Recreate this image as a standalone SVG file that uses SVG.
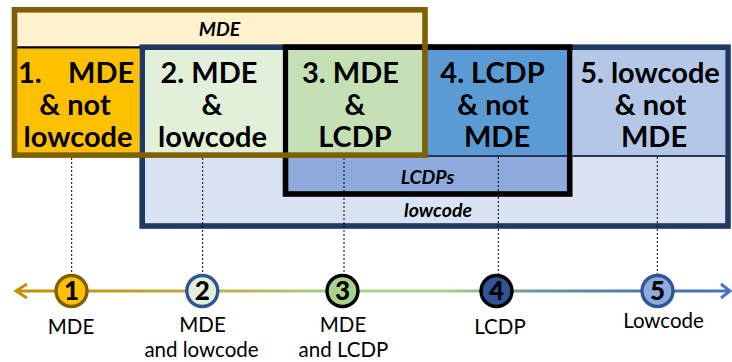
<svg xmlns="http://www.w3.org/2000/svg" width="732" height="362" viewBox="0 0 732 362">
<defs>
<linearGradient id="axisGrad" gradientUnits="userSpaceOnUse" x1="15" y1="0" x2="732" y2="0">
<stop offset="0" stop-color="#BF9000"/>
<stop offset="0.25" stop-color="#BFA840"/>
<stop offset="0.46" stop-color="#A9D18E"/>
<stop offset="0.6" stop-color="#A9D18E"/>
<stop offset="0.72" stop-color="#6F96A0"/>
<stop offset="0.88" stop-color="#4F78A8"/>
<stop offset="1" stop-color="#4472C4"/>
</linearGradient>
<style>
.big{font-family:Lato,"Liberation Sans",sans-serif;font-weight:bold;font-size:29px;fill:#000}
.ital{font-family:Lato,"Liberation Sans",sans-serif;font-weight:bold;font-style:italic;font-size:19.5px;fill:#000;text-anchor:middle}
.mid{text-anchor:middle}
.lbl{font-family:Lato,"Liberation Sans",sans-serif;font-size:20.5px;fill:#000;text-anchor:middle}
.num{font-family:Lato,"Liberation Sans",sans-serif;font-weight:900;font-size:26px;fill:#000;text-anchor:middle}
.dot{stroke:#000;stroke-width:1;stroke-dasharray:2 2;fill:none}
.ring{stroke-width:3.4}
</style>
</defs>

<g id="mde-header">
<rect x="17" y="12" width="405" height="36" fill="#FFF2CC"/>
<line x1="17" y1="47.5" x2="140" y2="47.5" stroke="#000" stroke-width="2.3"/>
<text class="ital" x="219.5" y="35.5">MDE</text>
</g>

<g id="lowcode-box">
<rect x="142.2" y="47.2" width="585.8" height="178.8" fill="#DAE3F3" stroke="#1F3864" stroke-width="5.6"/>
<text class="ital" x="438" y="216.5">lowcode</text>
</g>

<g id="lcdp-box">
<rect x="285.5" y="47.2" width="284.2" height="146.8" fill="#8FAADC" stroke="#000" stroke-width="5.6"/>
<text class="ital" x="427.5" y="183.5">LCDPs</text>
</g>

<g id="region1">
<rect x="17" y="48.7" width="122.4" height="104" fill="#FFC000"/>
<text class="big" y="83"><tspan x="18">1. </tspan><tspan x="68">MDE</tspan></text>
<text class="big mid" x="75" y="115">&amp; not</text>
<text class="big mid" x="78" y="147">lowcode</text>
</g>

<g id="region2">
<rect x="145" y="50" width="137.7" height="103" fill="#E2F0D9"/>
<text class="big mid" x="209" y="83">2. MDE</text>
<text class="big mid" x="212" y="115">&amp;</text>
<text class="big mid" x="212.5" y="147">lowcode</text>
</g>

<g id="region3">
<rect x="288.3" y="50" width="134" height="103" fill="#C5E0B4"/>
<text class="big mid" x="350.5" y="83">3. MDE</text>
<text class="big mid" x="355" y="115">&amp;</text>
<text class="big mid" x="355" y="147">LCDP</text>
</g>

<g id="region4">
<rect x="422" y="50" width="144.8" height="105" fill="#5B9BD5"/>
<line x1="422" y1="156" x2="567" y2="156" stroke="#2A3550" stroke-width="1.8"/>
<text class="big mid" x="492.5" y="83">4. LCDP</text>
<text class="big mid" x="493" y="115">&amp; not</text>
<text class="big mid" x="497" y="147">MDE</text>
</g>

<g id="region5">
<rect x="572.6" y="50" width="152.6" height="105" fill="#B4C7E7"/>
<line x1="572.6" y1="156" x2="725.2" y2="156" stroke="#2A3550" stroke-width="1.8"/>
<text class="big mid" x="650" y="83">5. lowcode</text>
<text class="big mid" x="650.5" y="115">&amp; not</text>
<text class="big mid" x="654" y="147">MDE</text>
</g>

<g id="mde-box">
<rect x="14.5" y="9.8" width="410.5" height="145.3" fill="none" stroke="#7F6000" stroke-width="5.6"/>
</g>

<g id="connectors">
<line class="dot" x1="71.7" y1="158" x2="71.7" y2="274"/>
<line class="dot" x1="202.7" y1="158" x2="202.7" y2="274"/>
<line class="dot" x1="344" y1="158" x2="344" y2="274"/>
<line class="dot" x1="498.3" y1="157" x2="498.3" y2="274"/>
<line class="dot" x1="657.3" y1="157" x2="657.3" y2="274"/>
<line x1="16" y1="291" x2="730" y2="291" stroke="url(#axisGrad)" stroke-width="3"/>
<polyline points="27,284 16,291 27,298" fill="none" stroke="#BF9000" stroke-width="3"/>
<polyline points="721,284 730,291 721,298" fill="none" stroke="#4472C4" stroke-width="3"/>
</g>

<g id="marker1">
<circle class="ring" cx="71.5" cy="291" r="15.5" fill="#FFC000" stroke="#7F6000"/>
<text class="num" x="71.5" y="300">1</text>
<text class="lbl" x="71" y="334">MDE</text>
</g>
<g id="marker2">
<circle class="ring" cx="202.3" cy="291" r="15.5" fill="#E2F0D9" stroke="#2F5597"/>
<text class="num" x="202.3" y="300">2</text>
<text class="lbl" x="202.5" y="332">MDE</text>
<text class="lbl" x="201.5" y="357">and lowcode</text>
</g>
<g id="marker3">
<circle class="ring" cx="342.5" cy="291" r="15.5" fill="#A9D18E" stroke="#000"/>
<text class="num" x="342.5" y="300">3</text>
<text class="lbl" x="343" y="332">MDE</text>
<text class="lbl" x="343.5" y="357">and LCDP</text>
</g>
<g id="marker4">
<circle class="ring" cx="496.5" cy="291" r="15.5" fill="#2F5597" stroke="#000"/>
<text class="num" x="496.5" y="300">4</text>
<text class="lbl" x="500" y="334">LCDP</text>
</g>
<g id="marker5">
<circle class="ring" cx="657.5" cy="291" r="15.5" fill="#8FAADC" stroke="#2F5597"/>
<text class="num" x="657.5" y="300">5</text>
<text class="lbl" x="663.5" y="328">Lowcode</text>
</g>
</svg>
